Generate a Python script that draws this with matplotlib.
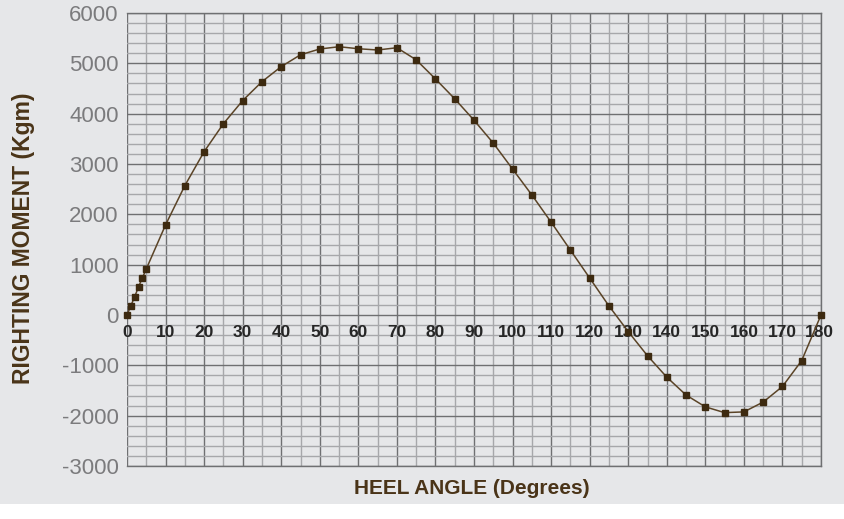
import matplotlib
matplotlib.use("Agg")

import matplotlib.pyplot as plt
from matplotlib.patches import Rectangle
from matplotlib.ticker import MultipleLocator

# heel angle (degrees) and righting moment (Kgm)
heel_angle = [0, 1, 2, 3, 4, 5, 10, 15, 20, 25, 30, 35, 40, 45, 50, 55, 60,
              65, 70, 75, 80, 85, 90, 95, 100, 105, 110, 115, 120, 125, 130,
              135, 140, 145, 150, 155, 160, 165, 170, 175, 180]
righting_moment = [0, 185, 365, 560, 740, 915, 1790, 2570, 3245, 3800, 4260,
                   4635, 4935, 5170, 5285, 5330, 5290, 5265, 5310, 5070, 4690,
                   4295, 3870, 3415, 2900, 2385, 1845, 1290, 735, 180, -330,
                   -810, -1235, -1590, -1825, -1940, -1925, -1730, -1420,
                   -905, 0]
x_ticks = list(range(0, 181, 10))
y_ticks = list(range(-3000, 6001, 1000))

BG = "#e6e7e9"
MAJOR = "#6f7072"
MINOR = "#a7a8ab"
BROWN = "#4a3418"
MARKER = "#3d2a10"

plt.rcParams["font.family"] = ["Liberation Sans", "DejaVu Sans"]

fig = plt.figure(figsize=(8.44, 5.19), dpi=100, facecolor="white")
# grey panel stops a little above the bottom of the picture
fig.patches.append(Rectangle((0, 15 / 519), 1, 1 - 15 / 519,
                             transform=fig.transFigure, facecolor=BG,
                             edgecolor="none", zorder=-10))

ax = fig.add_axes([127 / 844, 1 - 466 / 519, (821 - 127) / 844, (466 - 13) / 519])
ax.set_facecolor(BG)
ax.set_xlim(0, 180)
ax.set_ylim(-3000, 6000)

# grid: light every 5 deg / 200 Kgm, dark every 10 deg / 1000 Kgm
ax.xaxis.set_major_locator(MultipleLocator(10))
ax.xaxis.set_minor_locator(MultipleLocator(5))
ax.set_yticks(y_ticks)
ax.yaxis.set_minor_locator(MultipleLocator(200))
ax.grid(which="minor", color=MINOR, linewidth=1.0, zorder=0)
ax.grid(which="major", color=MAJOR, linewidth=1.0, zorder=0)
ax.set_axisbelow(True)

ax.spines["left"].set_visible(False)
for side in ["top", "right", "bottom"]:
    ax.spines[side].set_color(MAJOR)
    ax.spines[side].set_linewidth(1.0)

ax.tick_params(which="both", length=0)
ax.set_xticklabels([])
ax.set_yticklabels([str(v) for v in y_ticks], fontsize=16, color="#7b7b7d")
ax.tick_params(axis="y", pad=6)

# x tick labels sit just under the zero line
for xt in x_ticks:
    ax.annotate(str(xt), (xt, 0), xytext=(-1 if xt == 180 else 0, -7),
                textcoords="offset points", ha="center", va="top",
                fontsize=12.5, fontweight="bold", color="#262626",
                annotation_clip=False)

ax.plot(heel_angle, righting_moment, color="#5b4427", linewidth=1.1,
        marker="s", markersize=5, markerfacecolor=MARKER,
        markeredgecolor=MARKER, zorder=3, clip_on=False)

fig.text(472 / 844, 1 - 488 / 519, "HEEL ANGLE (Degrees)", ha="center",
         va="center", fontsize=15, fontweight="bold", color=BROWN)
fig.text(24 / 844, 1 - 238 / 519, "RIGHTING MOMENT (Kgm)", ha="center",
         va="center", rotation=90, fontsize=16.5, fontweight="bold",
         color=BROWN)

fig.savefig("out.png", dpi=100, facecolor=fig.get_facecolor())
